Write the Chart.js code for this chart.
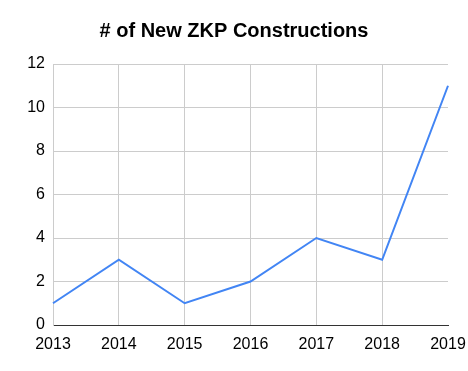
<!DOCTYPE html>
<html>
<head>
<meta charset="utf-8">
<script src="https://cdn.jsdelivr.net/npm/chart.js@4"></script>
<style>
  html, body { margin: 0; padding: 0; background: #fff; }
  #wrap { width: 468px; height: 371px; }
</style>
</head>
<body>
<div id="wrap"><canvas id="zkpChart" width="468" height="371"></canvas></div>
<script>
// data
const years = ['2013', '2014', '2015', '2016', '2017', '2018', '2019'];
const constructions = [1, 3, 1, 2, 4, 3, 11];
const yTicks = [0, 2, 4, 6, 8, 10, 12];

const ctx = document.getElementById('zkpChart').getContext('2d');
new Chart(ctx, {
    type: 'line',
    data: {
        labels: years,
        datasets: [{
            label: '# of New ZKP Constructions',
            data: constructions,
            borderColor: '#4285f4',
            borderWidth: 2,
            pointRadius: 0,
            tension: 0,
            fill: false
        }]
    },
    options: {
        responsive: false,
        animation: false,
        layout: { padding: 0 },
        plugins: {
            legend: { display: false },
            tooltip: { enabled: false },
            title: {
                display: true,
                text: '# of New ZKP Constructions',
                color: '#000',
                font: { family: 'Arial, "Liberation Sans"', size: 20, weight: 'bold' },
                padding: { top: 19, bottom: 21 }
            }
        },
        scales: {
            x: {
                offset: false,
                grid: {
                    // no gridline on the last year, like the original
                    color: c => c.index === years.length - 1 ? 'rgba(0,0,0,0)' : '#cccccc',
                    drawTicks: false
                },
                border: { color: '#333333', width: 1 },
                ticks: {
                    color: '#000',
                    padding: 10,
                    maxRotation: 0,
                    font: { family: 'Arial, "Liberation Sans"', size: 16 }
                },
                afterFit: s => { s.height = 46; s.paddingLeft = 0; s.paddingRight = 20; }
            },
            y: {
                min: 0,
                max: 12,
                afterBuildTicks: s => { s.ticks = yTicks.map(v => ({ value: v })); },
                grid: { color: '#cccccc', drawTicks: false },
                border: { color: '#cccccc', width: 1 },
                ticks: {
                    color: '#000',
                    padding: 8,
                    font: { family: 'Arial, "Liberation Sans"', size: 16 }
                },
                afterFit: s => { s.width = 53; }
            }
        }
    }
});
</script>
</body>
</html>
